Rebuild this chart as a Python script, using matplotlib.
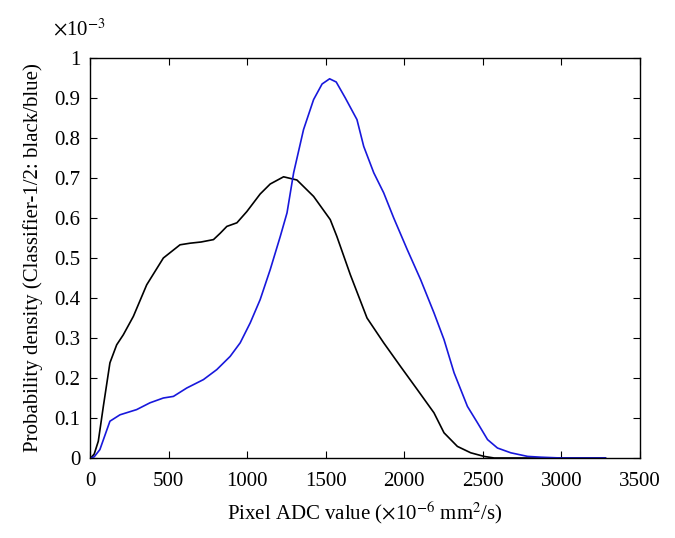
import numpy as np
import matplotlib
matplotlib.use('Agg')
import matplotlib.pyplot as plt

plt.rcParams['font.family'] = ['Liberation Serif', 'DejaVu Serif']
plt.rcParams['mathtext.fontset'] = 'stix'

# Classifier-1 (black), density in units of 1e-3
adc_black = [0, 5, 27, 53, 85, 127, 170, 212, 276, 361, 467, 573, 637, 707, 786, 829,
             871, 935, 998, 1083, 1147, 1232, 1317, 1423, 1529, 1571, 1657, 1763, 1869,
             1976, 2083, 2189, 2253, 2338, 2423, 2508, 2572, 2700, 3000, 3280]
dens_black = [0, 0.0, 0.01, 0.042, 0.129, 0.238, 0.283, 0.308, 0.354, 0.433, 0.500, 0.533,
              0.537, 0.540, 0.546, 0.562, 0.579, 0.588, 0.616, 0.660, 0.685, 0.703, 0.695,
              0.654, 0.596, 0.554, 0.458, 0.350, 0.288, 0.229, 0.171, 0.113, 0.063, 0.029,
              0.013, 0.004, 0.0, 0.0, 0.0, 0.0]

# Classifier-2 (blue)
adc_blue = [0, 5, 27, 63, 127, 191, 297, 382, 467, 531, 616, 722, 807, 892, 956, 1020,
            1083, 1147, 1211, 1254, 1296, 1359, 1423, 1477, 1525, 1567, 1625, 1699, 1742,
            1806, 1869, 1933, 2019, 2104, 2189, 2253, 2317, 2402, 2466, 2530, 2593, 2678,
            2785, 2870, 3000, 3280]
dens_blue = [0, 0.0, 0.003, 0.021, 0.092, 0.108, 0.121, 0.138, 0.150, 0.154, 0.175, 0.196,
             0.221, 0.254, 0.288, 0.338, 0.396, 0.471, 0.554, 0.613, 0.713, 0.821, 0.896,
             0.935, 0.948, 0.940, 0.900, 0.846, 0.779, 0.713, 0.663, 0.600, 0.521, 0.446,
             0.363, 0.296, 0.213, 0.129, 0.088, 0.046, 0.025, 0.013, 0.004, 0.002, 0.0, 0.0]

xticks = [0, 500, 1000, 1500, 2000, 2500, 3000, 3500]
yticks = [0, 0.1, 0.2, 0.3, 0.4, 0.5, 0.6, 0.7, 0.8, 0.9, 1]
ylabels = ['0', '0.1', '0.2', '0.3', '0.4', '0.5', '0.6', '0.7', '0.8', '0.9', '1']

fig = plt.figure(figsize=(6.75, 5.38), dpi=100)
ax = fig.add_axes([0.1333, 0.1487, 0.8148, 0.7435])

ax.plot(adc_black, dens_black, color='black', lw=1.2)
ax.plot(adc_blue, dens_blue, color='#1818dc', lw=1.2)

ax.set_xlim(0, 3500)
ax.set_ylim(0, 1)
ax.set_xticks(xticks)
ax.set_yticks(yticks)
ax.set_yticklabels(ylabels)
ax.tick_params(direction='in', top=True, right=True, length=5, width=0.8,
               labelsize=15)
ax.tick_params(axis='x', pad=10)
ax.tick_params(axis='y', pad=7)
for s in ax.spines.values():
    s.set_linewidth(1.0)

ax.set_xlabel(r'Pixel ADC value ($\times$10$^{-6}$ mm$^{2}$/s)', fontsize=15, labelpad=6)
ax.set_ylabel('Probability density (Classifier-1/2: black/blue)', fontsize=15, labelpad=8)
# exponent label, MATLAB style
ax.text(-0.067, 1.0575, r'$\times$10$^{-3}$', transform=ax.transAxes, fontsize=15,
        ha='left', va='baseline')

fig.savefig('out.png', dpi=100)
